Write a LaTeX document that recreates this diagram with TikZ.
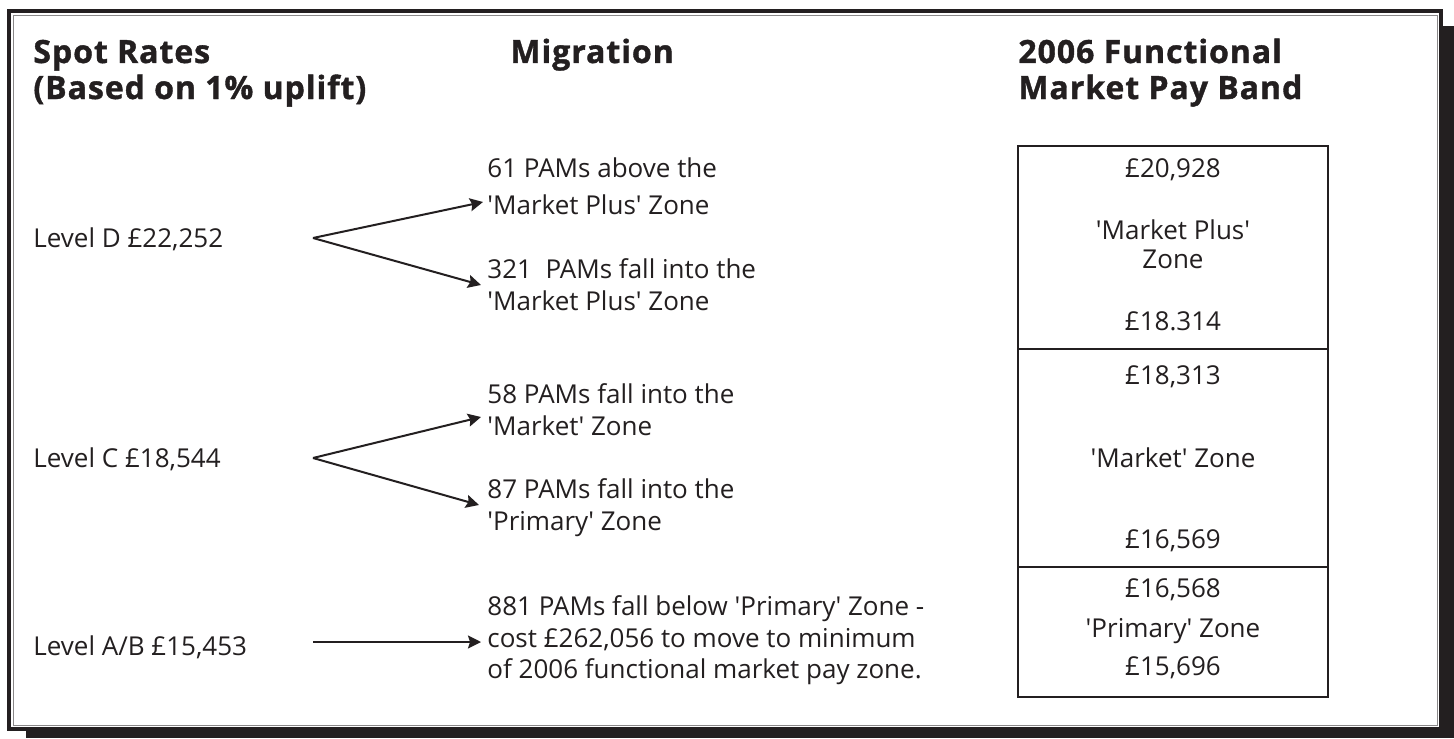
\documentclass[tikz,border=0pt]{standalone}
\usepackage{fontspec}
\setmainfont{Open Sans}
\newfontfamily\headfont{Open Sans}[BoldFeatures={FakeBold=1.2,LetterSpace=3}]
\usepackage{xcolor}
\usetikzlibrary{arrows.meta,positioning,calc}
\definecolor{InkDark}{HTML}{231F20}
\definecolor{FrameGrey}{HTML}{8A8889}
\newcommand{\txtsize}{\fontsize{13}{15}\selectfont}
\newcommand{\headsize}{\headfont\fontsize{16}{18}\selectfont\bfseries}
\newcommand{\q}{\textquotesingle}

\begin{document}
\begin{tikzpicture}[x=0.5pt,y=-0.5pt,>={Stealth[length=6.5pt,width=6.5pt,inset=1pt]},
 every node/.style={inner sep=0pt,text=InkDark},
 txt/.style={anchor=base west,font=\txtsize},
 head/.style={anchor=base west,font=\headsize},
 band/.style={anchor=base,font=\txtsize},
 fork/.style={->,line width=1pt,color=InkDark}]
\useasboundingbox (0,0) rectangle (1454,738);
% frame with shadow
\fill[InkDark] (26,26) rectangle (1454,738);
\fill[white] (8,10) rectangle (1442,730);
\draw[InkDark,line width=1.8pt] (9,11) rectangle (1441,729);
\draw[FrameGrey,line width=0.4pt] (13,15) rectangle (1437,725);
% column heads
\node[head] (spot1) at (33,63) {Spot Rates};
\node[head] (spot2) at (33,99) {(Based on 1\% uplift)};
\node[head] (migr) at (510,63) {Migration};
\node[head] (band1) at (1018,63) {2006 Functional};
\node[head] (band2) at (1018,99) {Market Pay Band};
% spot rates
\node[txt] (levD) at (33,247) {Level D £22,252};
\node[txt] (levC) at (33,467) {Level C £18,544};
\node[txt] (levAB) at (33,655) {Level A/B £15,453};
\coordinate (forkD) at (313,238);
\coordinate (forkC) at (313,458);
\coordinate (forkAB) at (313,642);
% migration
\node[txt] (mD1a) at (487,177) {61 PAMs above the};
\node[txt] (mD1b) at (487,214) {\q Market Plus\q{} Zone};
\node[txt] (mD2a) at (487,278) {321\ \ PAMs fall into the};
\node[txt] (mD2b) at (487,310) {\q Market Plus\q{} Zone};
\node[txt] (mC1a) at (487,403) {58 PAMs fall into the};
\node[txt] (mC1b) at (487,435) {\q Market\q{} Zone};
\node[txt] (mC2a) at (487,498) {87 PAMs fall into the};
\node[txt] (mC2b) at (487,530) {\q Primary\q{} Zone};
\node[txt] (mAB1) at (487,615) {881 PAMs fall below \q Primary\q{} Zone -};
\node[txt] (mAB2) at (487,647) {cost £262,056 to move to minimum};
\node[txt] (mAB3) at (487,678) {of 2006 functional market pay zone.};
\draw[fork] (forkD) -- ([xshift=-2pt,yshift=6pt]mD1b.base west);
\draw[fork] (forkD) -- ([xshift=-3pt,yshift=-3.5pt]mD2a.base west);
\draw[fork] (forkC) -- ([xshift=-3pt,yshift=9pt]mC1b.base west);
\draw[fork] (forkC) -- ([xshift=-4pt,yshift=-3.5pt]mC2a.base west);
\draw[fork] (forkAB) -- ([xshift=-3pt,yshift=2.5pt]mAB2.base west);
% pay band
\draw[InkDark,line width=1pt] (1018,146) rectangle (1328,697);
\draw[InkDark,line width=1pt] (1018,349) -- (1328,349);
\draw[InkDark,line width=1pt] (1018,567) -- (1328,567);
\node[band] (mpTop) at (1173,177) {£20,928};
\node[band] (mpName) at (1173,239) {\q Market Plus\q};
\node[band] (mpZone) at (1173,268) {Zone};
\node[band] (mpLow) at (1173,330) {£18.314};
\node[band] (mkTop) at (1173,384) {£18,313};
\node[band] (mkName) at (1173,467) {\q Market\q{} Zone};
\node[band] (mkLow) at (1173,548) {£16,569};
\node[band] (prTop) at (1173,597) {£16,568};
\node[band] (prName) at (1173,637) {\q Primary\q{} Zone};
\node[band] (prLow) at (1173,675) {£15,696};
\end{tikzpicture}
\end{document}
